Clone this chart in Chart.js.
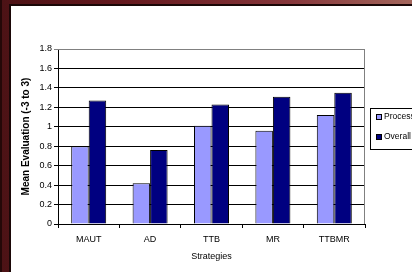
<!DOCTYPE html>
<html>
<head>
<meta charset="utf-8">
<script src="https://cdn.jsdelivr.net/npm/chart.js@4.4.1/dist/chart.umd.min.js"></script>
<style>
html, body { margin: 0; padding: 0; width: 412px; height: 272px; overflow: hidden; }
body { position: relative; background: linear-gradient(to right, #4c1215 0%, #65191e 30%, #86363a 70%, #a4665c 100%); }
#edge { position: absolute; left: 0; top: 0; width: 2px; height: 272px; background: #240808; }
#panel { position: absolute; left: 9px; top: 4px; right: 0; bottom: 0; background: #fff;
         border-left: 2px solid #1a0707; border-top: 2px solid #1a0707; }
#chart { position: absolute; left: 0; top: 0; }
</style>
</head>
<body>
<div id="edge"></div>
<div id="panel"></div>
<canvas id="chart" width="412" height="272"></canvas>
<script>
const categories = ['MAUT', 'AD', 'TTB', 'MR', 'TTBMR'];
const processValues = [0.80, 0.42, 1.01, 0.96, 1.12];
const overallValues = [1.27, 0.76, 1.23, 1.31, 1.35];
const seriesNames = ['Process', 'Overall'];
const yTicks = [0, 0.2, 0.4, 0.6, 0.8, 1, 1.2, 1.4, 1.6, 1.8];

const FONT = '"Liberation Sans", Arial, sans-serif';

// grey frame on top and right of plot area
const plotBorder = {
    id: 'plotBorder',
    beforeDatasetsDraw(chart) {
        const a = chart.chartArea, c = chart.ctx;
        c.save();
        c.strokeStyle = '#808080';
        c.lineWidth = 1;
        c.beginPath();
        c.moveTo(a.left, a.top + 0.5);
        c.lineTo(a.right - 0.5, a.top + 0.5);
        c.lineTo(a.right - 0.5, a.bottom);
        c.stroke();
        c.restore();
    }
};

// boxed legend, cut off by the right edge like the original
const boxLegend = {
    id: 'boxLegend',
    afterDraw(chart) {
        const c = chart.ctx;
        c.save();
        c.strokeStyle = '#000';
        c.lineWidth = 1;
        c.strokeRect(370.5, 108.5, 60, 41);
        c.font = '8.5px ' + FONT;
        c.textBaseline = 'middle';
        chart.data.datasets.forEach(function(ds, i) {
            const y = 117 + i * 20;
            c.fillStyle = ds.backgroundColor;
            c.fillRect(376, y - 3, 6, 6);
            c.strokeStyle = '#000';
            c.strokeRect(376.5, y - 2.5, 5, 5);
            c.fillStyle = '#000';
            c.fillText(ds.label, 384, y);
        });
        c.restore();
    }
};

new Chart(document.getElementById('chart'), {
    type: 'bar',
    data: {
        labels: categories,
        datasets: [{
            label: seriesNames[0],
            data: processValues,
            backgroundColor: '#9999ff',
            borderColor: '#000',
            borderWidth: 1,
            categoryPercentage: 0.57,
            barPercentage: 1.0
        }, {
            label: seriesNames[1],
            data: overallValues,
            backgroundColor: '#000080',
            borderColor: '#000',
            borderWidth: 1,
            categoryPercentage: 0.57,
            barPercentage: 1.0
        }]
    },
    options: {
        responsive: false,
        animation: false,
        layout: { padding: { top: 49, right: 47, left: 0, bottom: 0 } },
        plugins: {
            legend: { display: false },
            tooltip: { enabled: false }
        },
        scales: {
            x: {
                afterFit: function(s) { s.height = 48; },
                grid: { drawOnChartArea: false, drawTicks: true, tickLength: 4, color: '#000', offset: true },
                border: { color: '#000' },
                ticks: { color: '#000', font: { family: FONT, size: 9 }, padding: 6 },
                title: { display: true, text: 'Strategies', color: '#000',
                         font: { family: FONT, size: 9 }, padding: { top: 0, bottom: 10 } }
            },
            y: {
                min: 0,
                max: 1.8,
                afterFit: function(s) { s.width = 58; },
                afterBuildTicks: function(s) { s.ticks = yTicks.map(v => ({ value: v })); },
                grid: {
                    color: ctx => (ctx.tick && ctx.tick.value === 1.8) ? '#808080' : '#000',
                    tickLength: 4,
                    drawTicks: true
                },
                border: { color: '#000' },
                ticks: {
                    color: '#000',
                    font: { family: FONT, size: 9 },
                    padding: 2,
                    callback: v => String(v)
                },
                title: { display: true, text: 'Mean Evaluation (-3 to 3)', color: '#000',
                         font: { family: FONT, size: 10, weight: 'bold' }, padding: { top: 20, bottom: 0 } }
            }
        }
    },
    plugins: [plotBorder, boxLegend]
});
</script>
</body>
</html>
